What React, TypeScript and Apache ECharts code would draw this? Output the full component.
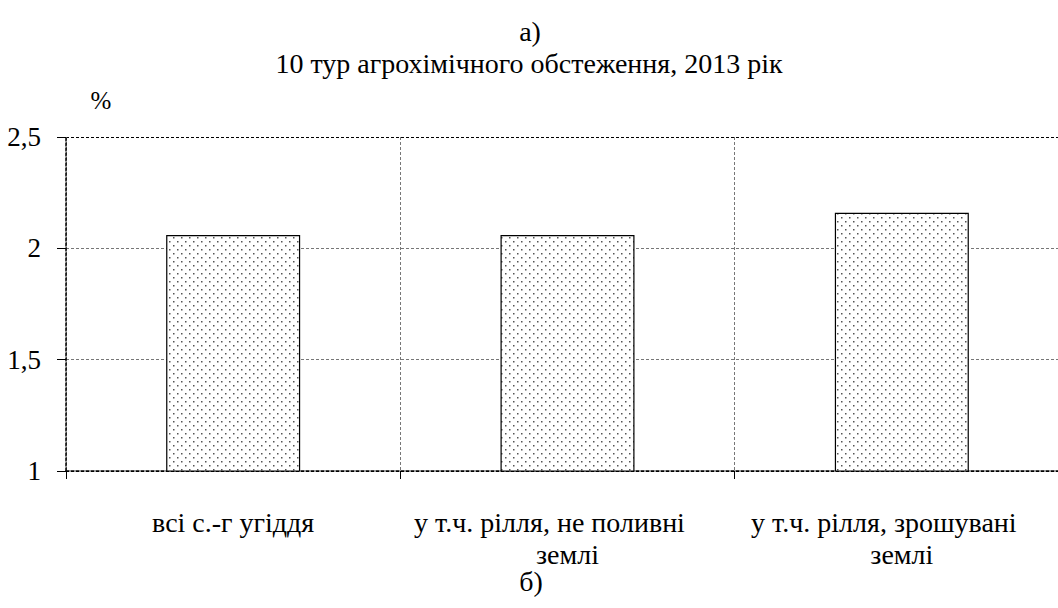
import React, { useEffect, useRef } from "react";
import * as echarts from "echarts";

const titleTop = "а)";
const subtitle = "10 тур агрохімічного обстеження, 2013 рік";
const bottomLabel = "б)";
const unitLabel = "%";
const categories = ["всі с.-г угіддя", "у т.ч. рілля, не поливні\nземлі", "у т.ч. рілля, зрошувані\nземлі"];
const values = [2.06, 2.06, 2.16];
const yMin = 1;
const yMax = 2.5;
const yStep = 0.5;

const FONT = "Liberation Serif, Times New Roman, serif";

function makePattern(): string {
  const c = document.createElement("canvas");
  c.width = 8;
  c.height = 8;
  const ctx = c.getContext("2d")!;
  ctx.fillStyle = "#ffffff";
  ctx.fillRect(0, 0, 8, 8);
  ctx.fillStyle = "#555555";
  ctx.fillRect(1, 1, 1.5, 1.5);
  ctx.fillRect(5, 5, 1.5, 1.5);
  return c.toDataURL();
}

function txt(text: string, x: number, y: number, size: number) {
  return {
    type: "text",
    x,
    y,
    style: {
      text,
      fontFamily: FONT,
      fontSize: size,
      fill: "#000",
      textAlign: "center",
      textVerticalAlign: "middle",
    },
  };
}

export default function App() {
  const ref = useRef<HTMLDivElement>(null);
  useEffect(() => {
    if (!ref.current) return;
    const chart = echarts.init(ref.current, null, { renderer: "svg" });
    const patternSrc = makePattern();
    chart.setOption({
      animation: false,
      backgroundColor: "#ffffff",
      textStyle: { fontFamily: FONT, color: "#000" },
      graphic: [
        txt(titleTop, 530, 31, 28),
        txt(subtitle, 529, 63, 28),
        txt(unitLabel, 101, 100, 25),
        txt(bottomLabel, 531, 581, 28),
      ],
      grid: { left: 66, top: 137, width: 1003, height: 334, containLabel: false },
      xAxis: {
        type: "category",
        data: categories,
        boundaryGap: true,
        axisLine: { show: true, lineStyle: { color: "#000", type: [3, 2], width: 1.5 } },
        axisTick: { show: true, length: 8, lineStyle: { color: "#000", width: 1 } },
        axisLabel: {
          fontFamily: FONT,
          fontSize: 28,
          color: "#000",
          margin: 35,
          lineHeight: 32,
          interval: 0,
          formatter: (v: string) => {
            const parts = v.split("\n");
            if (parts.length > 1) return `{a|${parts[0]}}\n{b|${parts[1]}}`;
            return `{b|${v}}`;
          },
          rich: {
            a: { fontFamily: FONT, fontSize: 28, lineHeight: 32, color: "#000", padding: [0, 36, 0, 0] },
            b: { fontFamily: FONT, fontSize: 28, lineHeight: 32, color: "#000" },
          },
        },
        splitLine: { show: true, lineStyle: { color: "#777", type: [3, 2], width: 1 } },
      },
      yAxis: {
        type: "value",
        min: yMin,
        max: yMax,
        interval: yStep,
        axisLine: { show: true, lineStyle: { color: "#000", type: [3, 2], width: 1.5 } },
        axisTick: { show: true, length: 9, lineStyle: { color: "#000", width: 1 } },
        axisLabel: {
          fontFamily: FONT,
          fontSize: 27,
          color: "#000",
          margin: 25,
          formatter: (v: number) => String(v).replace(".", ","),
        },
        splitLine: {
          show: true,
          lineStyle: { color: ["#000", "#777", "#777", "#000"], type: [3, 2], width: 1 },
        },
      },
      series: [
        {
          type: "bar",
          data: values,
          barWidth: 134,
          itemStyle: {
            color: { image: patternSrc, repeat: "repeat" } as any,
            borderColor: "#000",
            borderWidth: 1.2,
          },
        },
      ],
    });
    return () => chart.dispose();
  }, []);
  return (
    <div
      style={{ position: "fixed", left: 0, top: 0, width: 1058, height: 608, overflow: "hidden", background: "#fff" }}
    >
      <div ref={ref} style={{ width: 1080, height: 608 }} />
    </div>
  );
}
